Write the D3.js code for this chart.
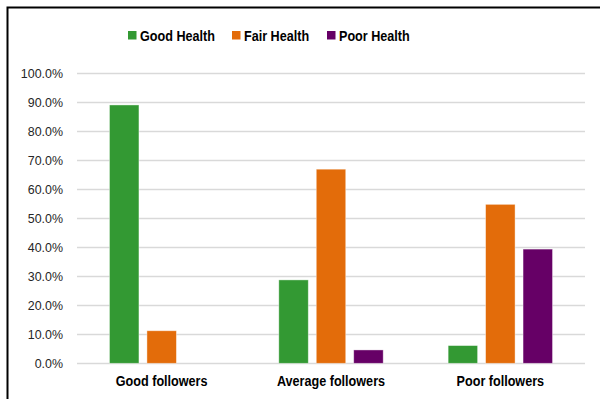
<!DOCTYPE html>
<html>
<head>
<meta charset="utf-8">
<script src="https://cdn.jsdelivr.net/npm/d3@7"></script>
<style>
  body { margin: 0; background: #fff; }
  svg { display: block; font-family: "Liberation Sans", "DejaVu Sans", sans-serif; }
</style>
</head>
<body>
<div id="chart"></div>
<script>
/* groupes, séries et valeurs */
const categories = ["Good followers", "Average followers", "Poor followers"]
const series = ["Good Health", "Fair Health", "Poor Health"]
const goodHealth = [0.889, 0.287, 0.061]
const fairHealth = [0.112, 0.668, 0.547]
const poorHealth = [0.0, 0.046, 0.393]
const yTicks = [0, 0.1, 0.2, 0.3, 0.4, 0.5, 0.6, 0.7, 0.8, 0.9, 1.0]

const colors = { "Good Health": "#339933", "Fair Health": "#e36c0a", "Poor Health": "#660066" }

const data = categories.map((c, i) => ({
    cat: c,
    values: [
        { key: "Good Health", v: goodHealth[i] },
        { key: "Fair Health", v: fairHealth[i] },
        { key: "Poor Health", v: poorHealth[i] }
    ]
}))

const W = 600, H = 399
const plot = { left: 77, right: 585, top: 72.7, bottom: 363.3 }

/* la police d'origine (Calibri) est plus étroite: on tasse le texte */
function squeeze(sel, factor) {
    sel.each(function () {
        const n = this.getComputedTextLength()
        d3.select(this)
            .attr("textLength", n * factor)
            .attr("lengthAdjust", "spacingAndGlyphs")
    })
}

const svg = d3.select("#chart").append("svg")
    .attr("width", W)
    .attr("height", H)

/* cadre: seulement haut et gauche sont visibles */
svg.append("path")
    .attr("d", `M7.5,${H} L7.5,7.5 L${W},7.5`)
    .attr("fill", "none")
    .attr("stroke", "#000")
    .attr("stroke-width", 2)

const x0 = d3.scaleBand()
    .domain(categories)
    .range([plot.left, plot.right])
    .padding(0)

const x1 = d3.scaleBand()
    .domain(series)
    .range([0, x0.bandwidth()])
    .paddingInner(0.213)
    .paddingOuter(0.867)

const y = d3.scaleLinear()
    .domain([0, 1])
    .range([plot.bottom, plot.top])

/* grille */
svg.append("g")
    .selectAll("line")
    .data(yTicks)
    .join("line")
    .attr("x1", plot.left)
    .attr("x2", plot.right)
    .attr("y1", d => Math.round(y(d)) + 0.5)
    .attr("y2", d => Math.round(y(d)) + 0.5)
    .attr("stroke", "#d9d9d9")
    .attr("stroke-width", 1.5)

/* axe vertical */
const yAxis = svg.append("g")
    .attr("transform", `translate(${plot.left},0)`)
    .call(d3.axisLeft(y).tickValues(yTicks).tickFormat(d3.format(".1%")).tickSize(0).tickPadding(14))
yAxis.select(".domain").remove()
yAxis.selectAll("text")
    .attr("font-size", 13.5)
    .attr("font-family", "Liberation Sans, sans-serif")
    .attr("fill", "#262626")
    .call(squeeze, 0.92)

/* barres */
svg.append("g")
    .selectAll("g")
    .data(data)
    .join("g")
    .attr("transform", d => `translate(${x0(d.cat)},0)`)
    .selectAll("rect")
    .data(d => d.values.filter(e => e.v > 0))
    .join("rect")
    .attr("x", d => x1(d.key))
    .attr("y", d => y(d.v))
    .attr("width", x1.bandwidth())
    .attr("height", d => y(0) - y(d.v))
    .attr("fill", d => colors[d.key])
    .attr("stroke", "#fff")
    .attr("stroke-opacity", 0.5)
    .attr("stroke-width", 0.8)

/* axe horizontal: libellés seulement */
const xAxis = svg.append("g")
    .attr("transform", `translate(0,${plot.bottom})`)
    .call(d3.axisBottom(x0).tickSize(0).tickPadding(13))
xAxis.select(".domain").remove()
xAxis.selectAll("text")
    .attr("font-size", 14)
    .attr("font-weight", "bold")
    .attr("fill", "#000")
    .call(squeeze, 0.9)

/* légende */
const legendX = [128, 232, 327]
const legend = svg.append("g")
    .selectAll("g")
    .data(series)
    .join("g")
    .attr("transform", (d, i) => `translate(${legendX[i]},31)`)
legend.append("rect")
    .attr("width", 8.5)
    .attr("height", 8.5)
    .attr("fill", d => colors[d])
legend.append("text")
    .attr("x", 12)
    .attr("y", 10)
    .attr("font-size", 15)
    .attr("font-weight", "bold")
    .attr("fill", "#000")
    .text(d => d)
    .call(squeeze, 0.84)
</script>
</body>
</html>
